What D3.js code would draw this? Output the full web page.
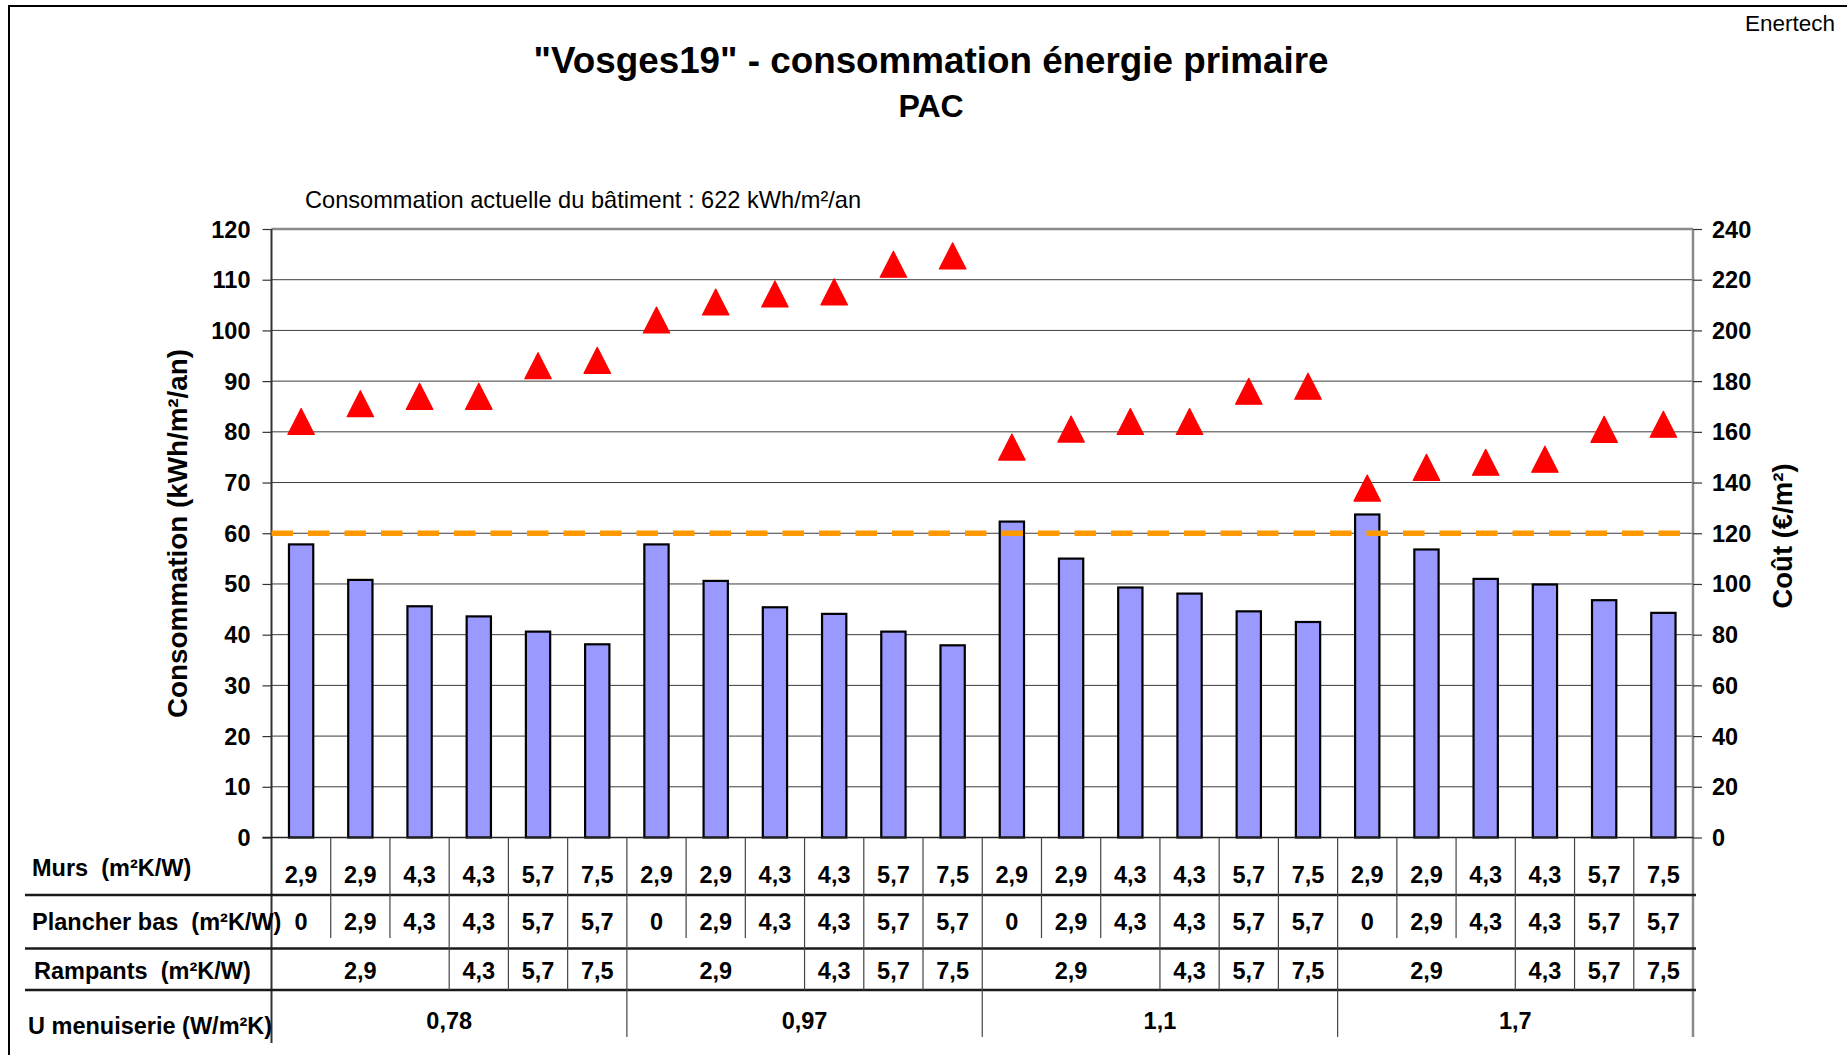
<!DOCTYPE html>
<html>
<head>
<meta charset="utf-8">
<script src="https://cdn.jsdelivr.net/npm/d3@7"></script>
<style>
  body { margin: 0; background: #fff; }
  svg text { font-family: "Liberation Sans", Arial, sans-serif; white-space: pre; }
</style>
</head>
<body>
<div id="chart"></div>
<script>
// consumption (kWh/m²/an), bars on left axis
const consumption = [57.8, 50.8, 45.6, 43.6, 40.6, 38.1,
                     57.8, 50.6, 45.4, 44.1, 40.6, 37.9,
                     62.3, 55.0, 49.3, 48.1, 44.6, 42.5,
                     63.7, 56.8, 51.0, 49.9, 46.8, 44.3];
// cost (€/m²), triangles on right axis
const cost = [164.1, 171.1, 174.0, 174.0, 186.1, 188.2,
              204.1, 211.2, 214.4, 215.2, 226.1, 229.4,
              154.0, 161.1, 164.1, 164.1, 176.0, 178.0,
              137.8, 146.0, 148.0, 149.2, 161.0, 163.0];
const refLevel = 60;

const leftTicks = [0, 10, 20, 30, 40, 50, 60, 70, 80, 90, 100, 110, 120];
const rightTicks = [0, 20, 40, 60, 80, 100, 120, 140, 160, 180, 200, 220, 240];

// table below the chart
const murs = ["2,9", "2,9", "4,3", "4,3", "5,7", "7,5",
              "2,9", "2,9", "4,3", "4,3", "5,7", "7,5",
              "2,9", "2,9", "4,3", "4,3", "5,7", "7,5",
              "2,9", "2,9", "4,3", "4,3", "5,7", "7,5"];
const plancher = ["0", "2,9", "4,3", "4,3", "5,7", "5,7",
                  "0", "2,9", "4,3", "4,3", "5,7", "5,7",
                  "0", "2,9", "4,3", "4,3", "5,7", "5,7",
                  "0", "2,9", "4,3", "4,3", "5,7", "5,7"];
const rampants = ["2,9", "4,3", "5,7", "7,5",
                  "2,9", "4,3", "5,7", "7,5",
                  "2,9", "4,3", "5,7", "7,5",
                  "2,9", "4,3", "5,7", "7,5"];
const rampantsSpan = [3, 1, 1, 1, 3, 1, 1, 1, 3, 1, 1, 1, 3, 1, 1, 1];
const menuiserie = ["0,78", "0,97", "1,1", "1,7"];
const menuiserieSpan = [6, 6, 6, 6];

const rowLabels = ["Murs  (m²K/W)", "Plancher bas  (m²K/W)", "Rampants  (m²K/W)", "U menuiserie (W/m²K)"];

const width = 1847, height = 1055;
const plotL = 271.5, plotR = 1693, plotT = 229, plotB = 837.5;

const svg = d3.select("#chart").append("svg")
    .attr("width", width)
    .attr("height", height);

svg.append("rect").attr("width", width).attr("height", height).attr("fill", "#fff");
// outer frame (only top and left visible)
svg.append("rect")
    .attr("x", 9).attr("y", 6)
    .attr("width", width).attr("height", height)
    .attr("fill", "none").attr("stroke", "#000").attr("stroke-width", 2);

const x = d3.scaleBand().domain(d3.range(consumption.length)).range([plotL, plotR]).padding(0);
const yL = d3.scaleLinear().domain([0, 120]).range([plotB, plotT]);
const yR = d3.scaleLinear().domain([0, 240]).range([plotB, plotT]);
const cx = i => x(i) + x.bandwidth() / 2;

// titles
svg.append("text").attr("x", 931).attr("y", 72.5).attr("text-anchor", "middle")
    .style("font-size", "36.8px").style("font-weight", "bold")
    .text("\"Vosges19\" - consommation énergie primaire");
svg.append("text").attr("x", 931).attr("y", 116.5).attr("text-anchor", "middle")
    .style("font-size", "32px").style("font-weight", "bold")
    .text("PAC");
svg.append("text").attr("x", 1835).attr("y", 31).attr("text-anchor", "end")
    .style("font-size", "22.5px")
    .text("Enertech");
svg.append("text").attr("x", 305).attr("y", 208).style("font-size", "23.6px")
    .text("Consommation actuelle du bâtiment : 622 kWh/m²/an");

// gridlines
svg.append("g").selectAll("line").data(leftTicks.filter(d => d > 0 && d < 120)).enter().append("line")
    .attr("x1", plotL).attr("x2", plotR)
    .attr("y1", d => yL(d)).attr("y2", d => yL(d))
    .attr("stroke", "#3c3c3c").attr("stroke-width", 1);

// plot frame
svg.append("line").attr("x1", plotL).attr("x2", plotR).attr("y1", plotT).attr("y2", plotT)
    .attr("stroke", "#8a8a8a").attr("stroke-width", 2.5);
svg.append("line").attr("x1", plotR).attr("x2", plotR).attr("y1", plotT).attr("y2", 1037)
    .attr("stroke", "#8a8a8a").attr("stroke-width", 2.5);

// axes
const axL = svg.append("g").attr("transform", `translate(${plotL},0)`)
    .call(d3.axisLeft(yL).tickValues(leftTicks).tickSize(9).tickPadding(12));
const axR = svg.append("g").attr("transform", `translate(${plotR},0)`)
    .call(d3.axisRight(yR).tickValues(rightTicks).tickSize(9).tickPadding(10));
[axL, axR].forEach(ax => {
    ax.select(".domain").remove();
    ax.selectAll(".tick line").attr("stroke", "#333").attr("stroke-width", 1.2);
    ax.selectAll(".tick text")
        .attr("dy", "0.34em")
        .style("font-family", "\"Liberation Sans\", Arial, sans-serif")
        .style("font-size", "23.5px").style("font-weight", "bold").attr("fill", "#000");
});
svg.append("line").attr("x1", plotL).attr("x2", plotL).attr("y1", plotT).attr("y2", 1043)
    .attr("stroke", "#333").attr("stroke-width", 2);

// axis titles
svg.append("text").attr("transform", "translate(187,533.5) rotate(-90)")
    .attr("text-anchor", "middle").style("font-size", "27.8px").style("font-weight", "bold")
    .text("Consommation (kWh/m²/an)");
svg.append("text").attr("transform", "translate(1792,536) rotate(-90)")
    .attr("text-anchor", "middle").style("font-size", "27.5px").style("font-weight", "bold")
    .text("Coût (€/m²)");

// bars
const barW = x.bandwidth() * 0.41;
svg.append("g").selectAll("rect").data(consumption).enter().append("rect")
    .attr("x", (d, i) => cx(i) - barW / 2)
    .attr("y", d => yL(d))
    .attr("width", barW)
    .attr("height", d => yL(0) - yL(d))
    .attr("fill", "#9999FF")
    .attr("stroke", "#000")
    .attr("stroke-width", 2.2);

// x axis line
svg.append("line").attr("x1", plotL - 9).attr("x2", plotR).attr("y1", plotB).attr("y2", plotB)
    .attr("stroke", "#222").attr("stroke-width", 1.6);

// reference line
svg.append("line")
    .attr("x1", plotL).attr("x2", plotR)
    .attr("y1", yL(refLevel)).attr("y2", yL(refLevel))
    .attr("stroke", "#FF9900").attr("stroke-width", 5.5)
    .attr("stroke-dasharray", "21.5,15");

// triangles
const tw = 26.5, th = 26;
svg.append("g").selectAll("path").data(cost).enter().append("path")
    .attr("d", `M0,${-th / 2}L${tw / 2},${th / 2}L${-tw / 2},${th / 2}Z`)
    .attr("transform", (d, i) => `translate(${cx(i)},${yR(d)})`)
    .attr("fill", "#FF0000").attr("stroke", "#FF0000")
    .attr("stroke-width", 1.2).attr("stroke-linejoin", "round");

// table
const rows = { murs: [plotB, 895], plancher: [895, 948.5], rampants: [948.5, 990], menu: [990, 1037] };
const boundary = k => plotL + k * x.step();
const tbl = svg.append("g");

[895, 948.5, 990].forEach(y => {
    tbl.append("line").attr("x1", 25).attr("x2", plotR + 3).attr("y1", y).attr("y2", y)
        .attr("stroke", "#1a1a1a").attr("stroke-width", 2.4);
});

const ks = d3.range(1, consumption.length);
tbl.selectAll(".vm").data(ks).enter().append("line")
    .attr("x1", boundary).attr("x2", boundary)
    .attr("y1", rows.murs[0]).attr("y2", rows.murs[1])
    .attr("stroke", "#444").attr("stroke-width", 1.2);
tbl.selectAll(".vp").data(ks).enter().append("line")
    .attr("x1", boundary).attr("x2", boundary)
    .attr("y1", rows.plancher[0])
    .attr("y2", k => (k % 6 === 1 || k % 6 === 2) ? 938 : rows.plancher[1])
    .attr("stroke", "#444").attr("stroke-width", 1.2);

let acc = 0;
const rampCells = rampants.map((v, i) => { const c = { v, start: acc, span: rampantsSpan[i] }; acc += rampantsSpan[i]; return c; });
acc = 0;
const menuCells = menuiserie.map((v, i) => { const c = { v, start: acc, span: menuiserieSpan[i] }; acc += menuiserieSpan[i]; return c; });

tbl.selectAll(".vr").data(rampCells.filter(c => c.start > 0)).enter().append("line")
    .attr("x1", c => boundary(c.start)).attr("x2", c => boundary(c.start))
    .attr("y1", rows.rampants[0]).attr("y2", rows.rampants[1])
    .attr("stroke", "#444").attr("stroke-width", 1.2);
tbl.selectAll(".vu").data(menuCells.filter(c => c.start > 0)).enter().append("line")
    .attr("x1", c => boundary(c.start)).attr("x2", c => boundary(c.start))
    .attr("y1", rows.menu[0]).attr("y2", rows.menu[1])
    .attr("stroke", "#444").attr("stroke-width", 1.2);

const cellText = (sel) => sel.attr("text-anchor", "middle")
    .style("font-size", "23.5px").style("font-weight", "bold");

tbl.selectAll(".tm").data(murs).enter().append("text")
    .attr("x", (d, i) => cx(i)).attr("y", 883).call(cellText).text(d => d);
tbl.selectAll(".tp").data(plancher).enter().append("text")
    .attr("x", (d, i) => cx(i)).attr("y", 930).call(cellText).text(d => d);
tbl.selectAll(".tr").data(rampCells).enter().append("text")
    .attr("x", c => (boundary(c.start) + boundary(c.start + c.span)) / 2)
    .attr("y", 978.5).call(cellText).text(c => c.v);
tbl.selectAll(".tu").data(menuCells).enter().append("text")
    .attr("x", c => (boundary(c.start) + boundary(c.start + c.span)) / 2)
    .attr("y", 1029).call(cellText).text(c => c.v);

const labelPos = [[32, 876], [32, 930], [34, 978.5], [28, 1034]];
tbl.selectAll(".rl").data(rowLabels).enter().append("text")
    .attr("x", (d, i) => labelPos[i][0]).attr("y", (d, i) => labelPos[i][1])
    .style("font-size", "23.5px").style("font-weight", "bold")
    .text(d => d);
</script>
</body>
</html>
